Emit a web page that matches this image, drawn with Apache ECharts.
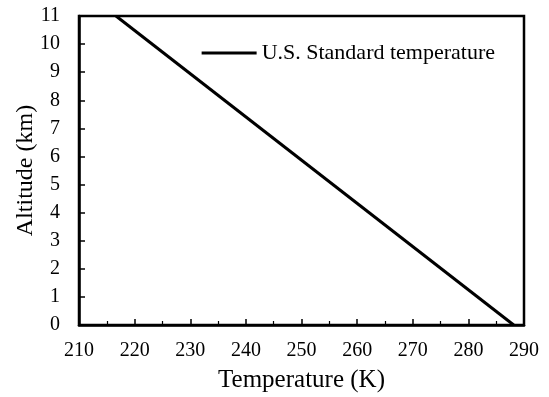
<!DOCTYPE html>
<html>
<head>
<meta charset="utf-8">
<script src="https://cdn.jsdelivr.net/npm/echarts@6/dist/echarts.min.js"></script>
<style>
  html, body { margin: 0; padding: 0; background: #fff; }
  #main { width: 549px; height: 397px; }
</style>
</head>
<body>
<div id="main"></div>
<script>
// U.S. Standard atmosphere, troposphere
const temperature = [288.15, 216.65];
const altitude = [0, 11];
const seriesName = "U.S. Standard temperature";

const chart = echarts.init(document.getElementById("main"));
const font = "'Liberation Serif', 'Times New Roman', serif";

const option = {
  animation: false,
  textStyle: { fontFamily: font, color: "#000" },
  grid: {
    left: 79, right: 25, top: 16, bottom: 72,
    outerBoundsMode: "none",
    show: true, borderColor: "#000", borderWidth: 2.5
  },
  legend: {
    data: [seriesName],
    top: 37, right: 49,
    icon: "rect",
    itemWidth: 55, itemHeight: 3,
    itemGap: 4,
    textStyle: { fontFamily: font, fontSize: 22, color: "#000" }
  },
  xAxis: {
    type: "value",
    min: 210, max: 290, interval: 10,
    name: "Temperature (K)",
    nameLocation: "middle",
    nameGap: 43,
    nameMoveOverlap: false,
    nameTextStyle: { fontFamily: font, fontSize: 25, color: "#000" },
    axisLine: { lineStyle: { color: "#000", width: 2.5 } },
    axisTick: { inside: true, length: 6, lineStyle: { color: "#000", width: 1.5 } },
    minorTick: { show: true, splitNumber: 2, length: 4, lineStyle: { color: "#000", width: 1.2 } },
    axisLabel: { fontFamily: font, fontSize: 20, color: "#000", margin: 16 },
    splitLine: { show: false }
  },
  yAxis: {
    type: "value",
    min: 0, max: 11, interval: 1,
    name: "Altitude (km)",
    nameLocation: "middle",
    nameGap: 41,
    nameMoveOverlap: false,
    nameTextStyle: { fontFamily: font, fontSize: 24, color: "#000" },
    axisLine: { lineStyle: { color: "#000", width: 2.5 } },
    axisTick: { inside: true, length: 6, lineStyle: { color: "#000", width: 1.5 } },
    axisLabel: { fontFamily: font, fontSize: 20, color: "#000", margin: 19 },
    splitLine: { show: false }
  },
  series: [
    {
      name: seriesName,
      type: "line",
      data: temperature.map((t, i) => [t, altitude[i]]),
      showSymbol: false,
      lineStyle: { color: "#000", width: 3 },
      itemStyle: { color: "#000" }
    }
  ]
};

chart.setOption(option);
</script>
</body>
</html>
